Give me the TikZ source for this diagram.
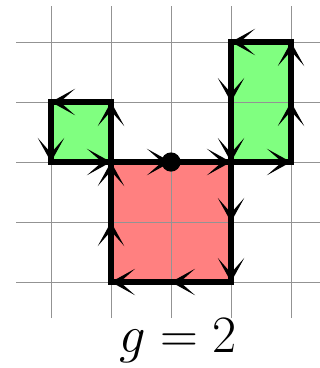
\documentclass[tikz,border=0pt]{standalone}
\usetikzlibrary{arrows.meta}
\begin{document}
\begin{tikzpicture}[
    gridline/.style={gray!85, line width=0.4pt},
    outline/.style={line width=2.5pt, line join=miter},
    edge/.style={line width=2.5pt, -{Stealth[length=4mm, width=4.4mm, inset=2.5mm]}},
    plus/.style={fill=green!50},
    minus/.style={fill=red!50}
  ]
  \useasboundingbox (-0.85,-1.433) rectangle (4.483,4.7);
  % faces
  \fill[minus] (1,0) rectangle (3,2);
  \fill[plus] (0,2) rectangle (1,3);
  \fill[plus] (3,2) rectangle (4,4);
  % grid
  \foreach \x in {0,...,4}
    \draw[gridline] (\x,-0.6) -- (\x,4.6);
  \foreach \y in {0,...,4}
    \draw[gridline] (-0.583,\y) -- (4.483,\y);
  % boundaries
  \draw[outline] (1,0) rectangle (3,2);
  \draw[outline] (0,2) rectangle (1,3);
  \draw[outline] (3,2) rectangle (4,4);
  \foreach \a/\b in {1/2, 2/3} \draw[edge] (\a,2) -- (\b,2);
  \foreach \a/\b in {2/1, 1/0} \draw[edge] (3,\a) -- (3,\b);
  \foreach \a/\b in {3/2, 2/1} \draw[edge] (\a,0) -- (\b,0);
  \foreach \a/\b in {0/1, 1/2} \draw[edge] (1,\a) -- (1,\b);
  \draw[edge] (1,3) -- (0,3);
  \draw[edge] (0,3) -- (0,2);
  \draw[edge] (0,2) -- (1,2);
  \draw[edge] (1,2) -- (1,3);
  \draw[edge] (4,4) -- (3,4);
  \foreach \a/\b in {4/3, 3/2} \draw[edge] (3,\a) -- (3,\b);
  \draw[edge] (3,2) -- (4,2);
  \foreach \a/\b in {2/3, 3/4} \draw[edge] (4,\a) -- (4,\b);
  \node[circle, fill, inner sep=0pt, minimum size=0.32cm] (base) at (2,2) {};
  \node[font=\fontsize{28}{32}\selectfont] (label) at (2.12,-0.97) {$g=2$};
\end{tikzpicture}
\end{document}
